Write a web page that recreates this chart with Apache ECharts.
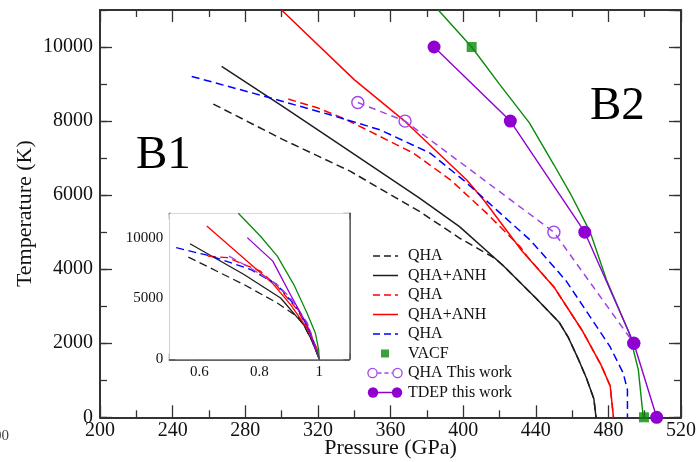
<!DOCTYPE html>
<html>
<head>
<meta charset="utf-8">
<title>B1-B2 melting curves</title>
<script src="https://cdn.jsdelivr.net/npm/echarts@6/dist/echarts.min.js"></script>
<style>
    html, body { margin: 0; padding: 0; background: #fff; }
    #meltDiv { width: 699px; height: 462px; }
</style>
</head>
<body>
<div id="meltDiv"></div>
<script>
// main panel, [pressure GPa, temperature K]
var blackQha = [[262.4, 8460], [300, 7520], [338, 6640], [365, 5870], [376, 5560], [398, 4840], [417.4, 4300], [422, 4100], [440, 3220], [453, 2560], [458, 2150], [463, 1620], [468, 1050], [472, 500], [473.2, 0]];
var blackAnh = [[267, 9480], [300, 8420], [328, 7500], [376, 5920], [398, 5150], [422, 4100], [440, 3220], [453, 2560], [458, 2150], [463, 1620], [468, 1050], [472, 500], [473.2, 0]];
var redQha = [[303.7, 8595], [320.2, 8351], [335, 8054], [345.5, 7800], [372.6, 7135], [393, 6414], [412.9, 5514], [431.3, 4611], [436, 4300], [450, 3520], [466, 2310], [476, 1410], [481, 846], [482.8, 0]];
var redAnh = [[300, 11000], [340, 9120], [368, 7990], [402, 6410], [412, 5830], [432, 4520], [450, 3520], [466, 2310], [476, 1410], [481, 846], [482.8, 0]];
var blueQha = [[250.5, 9205], [291, 8665], [326.7, 8170], [354.2, 7765], [381.8, 7135], [400, 6414], [418.4, 5603], [436.8, 4792], [451.5, 3981], [457, 3665], [469.9, 2719], [480.9, 1908], [488.2, 1189], [490.5, 738], [490.5, 0]];
var greenLine = [[386.3, 11000], [404.7, 10000], [420, 9000], [436.5, 7950], [450, 6820], [459, 6050], [470, 5000], [479, 3710], [491.5, 2270], [496.5, 1280], [499.2, 0]];
var vacfPoints = [[404.7, 10000], [499.6, 0]];
var qhaThisWork = [[342, 8500], [368, 8000], [450, 5000], [494, 2000]];
var tdepThisWork = [[384, 10000], [426, 8000], [467, 5000], [494, 2000], [506.6, 0]];

// inset, [P / P(T=0), temperature K]
var insetBlackQha = [[0.5635, 8400], [0.749, 6140], [0.86, 4630], [0.93, 3450], [0.948, 2835], [0.975, 1550], [1, 0]];
var insetBlackAnh = [[0.569, 9500], [0.749, 6970], [0.871, 5040], [0.948, 2835], [0.975, 1550], [1, 0]];
var insetRedQha = [[0.628, 8480], [0.694, 8350], [0.804, 7240], [0.86, 6000], [0.926, 4100], [0.97, 2200], [1, 0]];
var insetRedAnh = [[0.625, 10960], [0.843, 6280], [0.904, 4490], [0.959, 2560], [0.992, 910], [1, 0]];
var insetBlueQha = [[0.523, 9170], [0.639, 8480], [0.771, 7380], [0.86, 6140], [0.926, 4215], [0.97, 2281], [1, 0]];
var insetPurpleQha = [[0.699, 8480], [0.77, 7500], [0.86, 6140], [0.904, 5040], [0.96, 3000], [1, 0]];
var insetPurpleTdep = [[0.76, 10000], [0.845, 8070], [0.904, 5310], [0.959, 2840], [1, 0]];
var insetGreen = [[0.73, 12000], [0.804, 10110], [0.86, 8480], [0.915, 6140], [0.959, 3800], [0.987, 2150], [0.998, 770], [1, 0]];

var insetXLabels = ['0.6', '0.8', '1'];
var insetYLabels = ['0', '5000', '10000'];

var serif = '"Liberation Serif", "DejaVu Serif", serif';
var frameColor = '#333';
var cBlack = '#1e1e1e', cRed = '#ff0000', cBlue = '#0000ff', cGreen = '#0a8a0a';
var cPurple = '#9000d0', cPurpleLight = '#a045e6';

function svgIcon(body) {
    var svg = "<svg xmlns='http://www.w3.org/2000/svg' width='36' height='14' viewBox='0 0 36 14'>" + body + "</svg>";
    return 'image://data:image/svg+xml;charset=utf-8,' + encodeURIComponent(svg);
}
function lineIcon(color, dashed) {
    return svgIcon("<line x1='6' y1='7' x2='31' y2='7' stroke='" + color + "' stroke-width='1.6'" +
        (dashed ? " stroke-dasharray='7,4'" : "") + "/>");
}

function lineSeries(name, data, color, dashed, xi, yi, width) {
    return {
        type: 'line', name: name, data: data,
        xAxisIndex: xi, yAxisIndex: yi,
        symbol: 'none', smooth: false,
        lineStyle: {color: color, width: width, type: dashed ? [8, 4.5] : 'solid'},
        itemStyle: {color: color},
        z: 3
    };
}

function xAxisDef(grid, pos, min, max, interval, major, minorSplit) {
    var a = {
        type: 'value', gridIndex: grid, position: pos, min: min, max: max, interval: interval,
        axisLine: {show: true, onZero: false, lineStyle: {color: frameColor, width: grid === 0 ? 2 : 1.5}},
        axisTick: {show: true, inside: true, length: major, lineStyle: {color: frameColor, width: 1.3}},
        splitLine: {show: false},
        axisLabel: {show: false}
    };
    if (minorSplit) {
        a.minorTick = {show: true, splitNumber: minorSplit, length: 7, lineStyle: {color: frameColor, width: 1.3}};
        a.minorSplitLine = {show: false};
    }
    return a;
}

function yAxisDef(grid, pos, min, max, interval, len, showLine) {
    return {
        type: 'value', gridIndex: grid, position: pos, min: min, max: max, interval: interval,
        axisLine: {show: showLine, onZero: false, lineStyle: {color: frameColor, width: grid === 0 ? 2 : 1.5}},
        axisTick: {show: true, inside: true, length: len, lineStyle: {color: frameColor, width: 1.3}},
        splitLine: {show: false},
        axisLabel: {show: false}
    };
}

var meltChart = echarts.init(document.getElementById('meltDiv'));

// axes
var xMainBottom = xAxisDef(0, 'bottom', 200, 520, 40, 12, 2);
xMainBottom.axisLabel = {show: true, color: '#111', fontSize: 20, fontFamily: serif, margin: 3,
    formatter: function (v) { return String(v); }};
xMainBottom.name = 'Pressure (GPa)';
xMainBottom.nameLocation = 'middle';
xMainBottom.nameGap = 20;
xMainBottom.nameMoveOverlap = false;
xMainBottom.nameTextStyle = {color: '#111', fontSize: 22, fontFamily: serif};
var xMainTop = xAxisDef(0, 'top', 200, 520, 40, 12, 2);

var xInsetBottom = xAxisDef(1, 'bottom', 0.5, 1.1, 0.1, 6, 0);
xInsetBottom.axisLabel = {
    show: true, color: '#111', fontSize: 15, fontFamily: serif, margin: 5,
    formatter: function (v) {
        var s = String(Math.round(v * 10) / 10);
        return insetXLabels.indexOf(s) >= 0 ? s : '';
    }
};
var xInsetTop = xAxisDef(1, 'top', 0.5, 1.1, 0.1, 6, 0);

var yMainLeft = yAxisDef(0, 'left', 0, 11000, 2000, 12, true);
yMainLeft.axisLabel = {show: true, color: '#111', fontSize: 20, fontFamily: serif, margin: 7, showMaxLabel: false,
    formatter: function (v) { return String(v); }};
yMainLeft.name = 'Temperature (K)';
yMainLeft.nameLocation = 'middle';
yMainLeft.nameGap = 64;
yMainLeft.nameMoveOverlap = false;
yMainLeft.nameTextStyle = {color: '#111', fontSize: 22, fontFamily: serif};
var yMainLeftMinor = yAxisDef(0, 'left', 0, 11000, 1000, 7, false);
var yMainRight = yAxisDef(0, 'right', 0, 11000, 2000, 12, true);
var yMainRightMinor = yAxisDef(0, 'right', 0, 11000, 1000, 7, false);

var yInsetLeft = yAxisDef(1, 'left', 0, 12000, 2500, 6, true);
yInsetLeft.axisLabel = {
    show: true, color: '#111', fontSize: 15, fontFamily: serif, margin: 6, showMaxLabel: false,
    formatter: function (v) {
        var s = String(v);
        return insetYLabels.indexOf(s) >= 0 ? s : '';
    }
};
var yInsetRight = yAxisDef(1, 'right', 0, 12000, 2500, 6, true);

var series = [
    lineSeries('QHA|k', blackQha, cBlack, true, 0, 0, 1.5),
    lineSeries('QHA+ANH|k', blackAnh, cBlack, false, 0, 0, 1.5),
    lineSeries('QHA|r', redQha, cRed, true, 0, 0, 1.5),
    lineSeries('QHA+ANH|r', redAnh, cRed, false, 0, 0, 1.5),
    lineSeries('QHA|b', blueQha, cBlue, true, 0, 0, 1.5),
    lineSeries('VACF line', greenLine, cGreen, false, 0, 0, 1.4),
    {
        type: 'scatter', name: 'VACF', data: vacfPoints, xAxisIndex: 0, yAxisIndex: 0,
        symbol: 'rect', symbolSize: 10, itemStyle: {color: cGreen}, z: 5
    },
    {
        type: 'line', name: 'QHA This work', data: qhaThisWork, xAxisIndex: 0, yAxisIndex: 0,
        symbol: 'circle', symbolSize: 12, showSymbol: true,
        lineStyle: {color: cPurpleLight, width: 1.5, type: [7, 5]},
        itemStyle: {color: 'rgba(0,0,0,0)', borderColor: cPurpleLight, borderWidth: 1.4},
        z: 4
    },
    {
        type: 'line', name: 'TDEP this work', data: tdepThisWork, xAxisIndex: 0, yAxisIndex: 0,
        symbol: 'circle', symbolSize: 13, showSymbol: true,
        lineStyle: {color: cPurple, width: 1.4},
        itemStyle: {color: cPurple},
        z: 6
    },
    // inset
    lineSeries('in-k-qha', insetBlackQha, cBlack, true, 2, 4, 1.3),
    lineSeries('in-k-anh', insetBlackAnh, cBlack, false, 2, 4, 1.3),
    lineSeries('in-r-qha', insetRedQha, cRed, true, 2, 4, 1.3),
    lineSeries('in-r-anh', insetRedAnh, cRed, false, 2, 4, 1.3),
    lineSeries('in-b-qha', insetBlueQha, cBlue, true, 2, 4, 1.3),
    lineSeries('in-p-qha', insetPurpleQha, cPurpleLight, true, 2, 4, 1.3),
    lineSeries('in-p-tdep', insetPurpleTdep, cPurple, false, 2, 4, 1.3),
    lineSeries('in-g', insetGreen, cGreen, false, 2, 4, 1.3)
];

var option = {
    animation: false,
    backgroundColor: '#fff',
    grid: [
        {left: 100, top: 10, right: 18, bottom: 44.7, outerBoundsMode: 'none'},
        {left: 169.3, top: 213.3, right: 349.7, bottom: 102.7, show: true,
         backgroundColor: '#fff', borderWidth: 0, outerBoundsMode: 'none', z: 1}
    ],
    xAxis: [xMainBottom, xMainTop, xInsetBottom, xInsetTop],
    yAxis: [yMainLeft, yMainLeftMinor, yMainRight, yMainRightMinor, yInsetLeft, yInsetRight],
    legend: {
        orient: 'vertical', left: 362, top: 243,
        itemWidth: 36, itemHeight: 14, itemGap: 3.5,
        selectedMode: false,
        textStyle: {color: '#111', fontSize: 16, fontFamily: serif},
        formatter: function (name) { return name.split('|')[0]; },
        data: [
            {name: 'QHA|k', icon: lineIcon(cBlack, true)},
            {name: 'QHA+ANH|k', icon: lineIcon(cBlack, false)},
            {name: 'QHA|r', icon: lineIcon(cRed, true)},
            {name: 'QHA+ANH|r', icon: lineIcon(cRed, false)},
            {name: 'QHA|b', icon: lineIcon(cBlue, true)},
            {name: 'VACF', icon: svgIcon("<rect x='14' y='3' width='8' height='8' fill='" + cGreen + "'/>")},
            {name: 'QHA This work', icon: svgIcon(
                "<line x1='10.5' y1='7' x2='25.5' y2='7' stroke='" + cPurpleLight + "' stroke-width='1.5' stroke-dasharray='4,3'/>" +
                "<circle cx='5.5' cy='7' r='4.6' fill='none' stroke='" + cPurpleLight + "' stroke-width='1.3'/>" +
                "<circle cx='30.5' cy='7' r='4.6' fill='none' stroke='" + cPurpleLight + "' stroke-width='1.3'/>")},
            {name: 'TDEP this work', icon: svgIcon(
                "<line x1='6' y1='7' x2='30' y2='7' stroke='" + cPurple + "' stroke-width='1.6'/>" +
                "<circle cx='6' cy='7' r='5.2' fill='" + cPurple + "'/>" +
                "<circle cx='30' cy='7' r='5.2' fill='" + cPurple + "'/>")}
        ]
    },
    graphic: [
        {type: 'text', left: 136, top: 132, style: {text: 'B1', fontSize: 47, fontFamily: serif, fill: '#000'}},
        {type: 'text', left: 590, top: 83, style: {text: 'B2', fontSize: 47, fontFamily: serif, fill: '#000'}},
        {type: 'text', left: -6, top: 429, style: {text: '00', fontSize: 15, fontFamily: serif, fill: '#444'}}
    ],
    series: series
};

meltChart.setOption(option);
</script>
</body>
</html>
